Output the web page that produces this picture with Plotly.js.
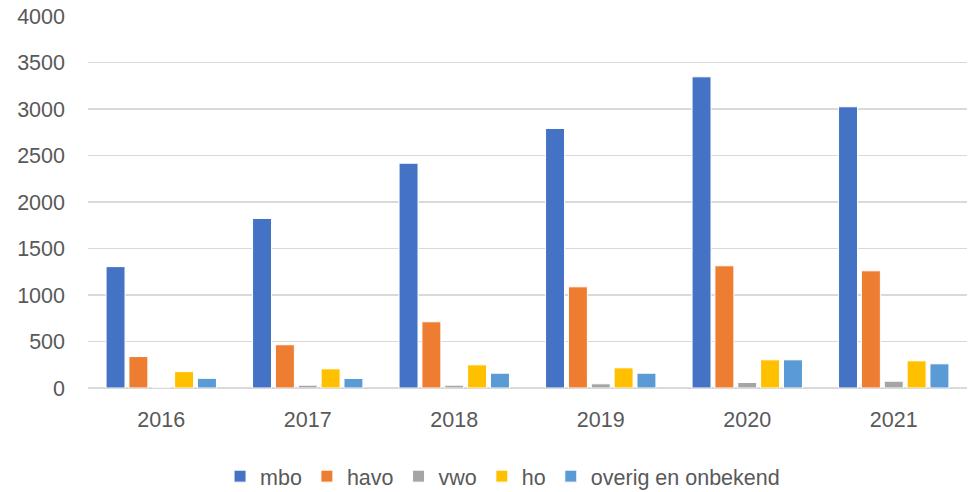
<!DOCTYPE html>
<html>
<head>
<meta charset="utf-8">
<script src="https://cdn.plot.ly/plotly-3.0.1.min.js"></script>
<style>html,body{margin:0;padding:0;background:#fff;}#chart{width:969px;height:492px;}</style>
</head>
<body>
<div id="chart"></div>
<script>
const years = ['2016', '2017', '2018', '2019', '2020', '2021'];
const seriesNames = ['mbo', 'havo', 'vwo', 'ho', 'overig en onbekend'];
const mbo = [1305, 1823, 2417, 2790, 3346, 3024];
const havo = [338, 465, 712, 1088, 1314, 1260];
const vwo = [0, 30, 30, 45, 59, 73];
const ho = [176, 206, 249, 217, 303, 292];
const overig = [104, 102, 159, 159, 303, 260];
const colors = ['#4472C4', '#ED7D31', '#A5A5A5', '#FFC000', '#5B9BD5'];
const allValues = [mbo, havo, vwo, ho, overig];

const traces = allValues.map((vals, i) => ({
  type: 'bar',
  name: seriesNames[i],
  x: years,
  y: vals,
  marker: {color: colors[i], line: {color: '#ffffff', width: 1}},
  hoverinfo: 'x+y+name'
}));

const font = {family: 'Liberation Sans, Arial, sans-serif', size: 21.5, color: '#595959'};

const layout = {
  width: 969, height: 492,
  margin: {l: 88, r: 2, t: 16, b: 104, autoexpand: false},
  paper_bgcolor: '#ffffff', plot_bgcolor: '#ffffff',
  barmode: 'group', bargap: 0.22, bargroupgap: 0.17,
  font: font,
  showlegend: true,
  legend: {orientation: 'h', x: 0.4716, xanchor: 'center', y: -0.237, yanchor: 'middle',
           font: {family: font.family, size: 21.5, color: '#595959'}, itemwidth: 30, traceorder: 'normal'},
  xaxis: {type: 'category', showgrid: false, zeroline: false, showline: false, automargin: false,
          ticks: '', tickfont: font, ticklabelstandoff: 16},
  yaxis: {range: [0, 4000], dtick: 500, tick0: 0, showgrid: true, gridcolor: '#D9D9D9', gridwidth: 1.5,
          zeroline: true, zerolinecolor: '#D9D9D9', zerolinewidth: 1.5, showline: false, automargin: false,
          ticks: '', tickfont: font, ticklabelstandoff: 22}
};

Plotly.newPlot('chart', traces, layout, {displayModeBar: false, staticPlot: true});
</script>
</body>
</html>
